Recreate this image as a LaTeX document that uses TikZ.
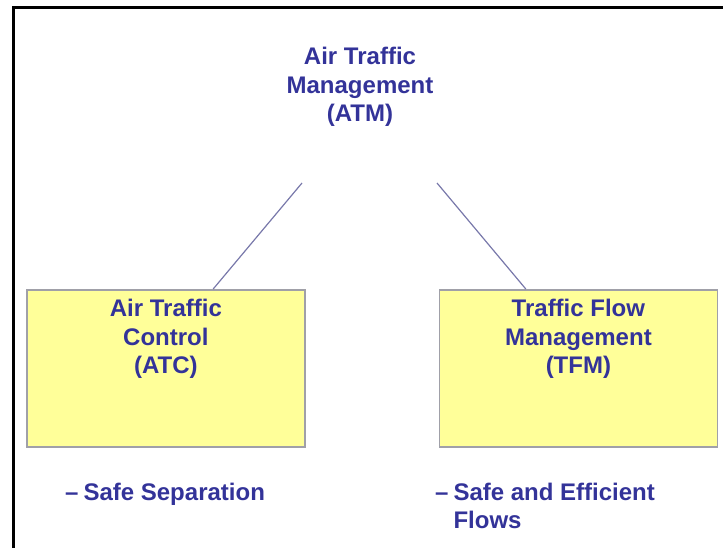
\documentclass[tikz,border=0pt]{standalone}
\usepackage{fontspec}
\setmainfont{Liberation Sans}
\usetikzlibrary{calc}
\definecolor{textblue}{HTML}{333399}
\definecolor{boxfill}{HTML}{FFFF99}
\definecolor{boxedge}{HTML}{A0A0A8}
\definecolor{linkcol}{HTML}{7878AA}
\tikzset{
  lbl/.style={font=\fontsize{24}{28.5}\selectfont\bfseries, text=textblue,
              align=center, inner sep=0pt},
  panel/.style={draw=boxedge, line width=1.8pt, fill=boxfill, inner sep=0pt,
                minimum width=278pt, minimum height=157pt, anchor=north west},
  link/.style={draw=linkcol, line width=1.2pt},
  frame/.style={line width=2.6pt, black}
}
\begin{document}
\begin{tikzpicture}[x=1pt, y=-1pt]
  \useasboundingbox (0,0) rectangle (723,548);
  % open frame: top and left edges only
  \draw[frame] (13.5,560) -- (13.5,7.8) -- (740,7.8);

  % top-level block
  \node[lbl, anchor=north] (atm) at (360,47) {Air Traffic\\Management\\(ATM)};
  \coordinate (atmL) at (302,183);
  \coordinate (atmR) at (437,183);

  % the two sub-blocks
  \node[panel] (atc) at (26,289) {};
  \node[panel] (tfm) at (438.5,289) {};
  \node[lbl, anchor=north] (atctext) at ($(atc.north)+(0,10)$) {Air Traffic\\Control\\(ATC)};
  \node[lbl, anchor=north] (tfmtext) at ($(tfm.north)+(0,10)$) {Traffic Flow\\Management\\(TFM)};

  % links
  \draw[link] (atmL) -- ($(atc.north west)!0.669!(atc.north east)$);
  \draw[link] (atmR) -- ($(tfm.north west)!0.312!(tfm.north east)$);

  % goals under each block, on a common baseline
  \node[lbl, anchor=base west] (atcgoal) at (65,500)
    {\begin{tabular}[t]{@{}l@{\hspace{5pt}}l@{}}–&Safe Separation\end{tabular}};
  \node[lbl, anchor=base west] (tfmgoal) at (435,500)
    {\begin{tabular}[t]{@{}l@{\hspace{5pt}}l@{}}–&Safe and Efficient\\&Flows\end{tabular}};
\end{tikzpicture}
\end{document}
